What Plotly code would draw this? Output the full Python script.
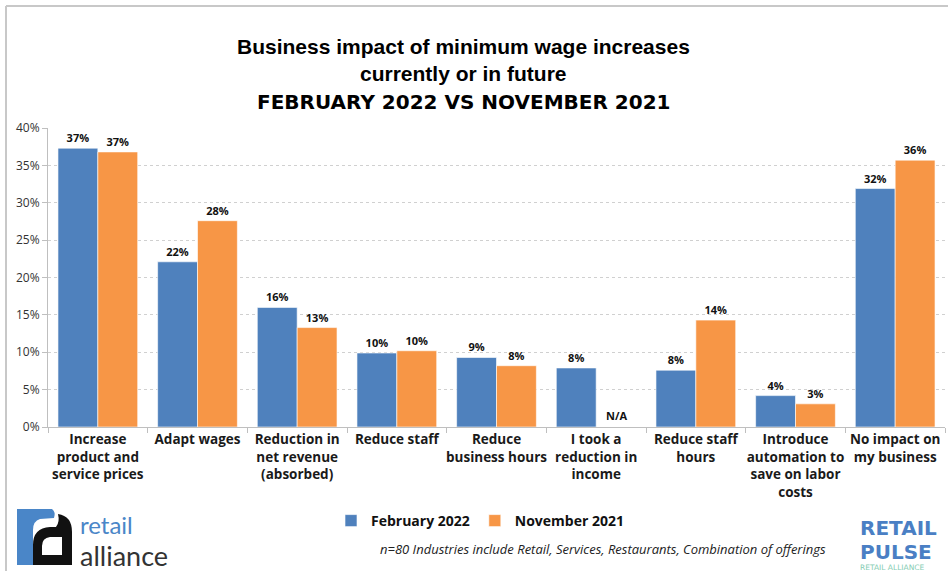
import plotly.graph_objects as go

# Survey categories and responses (percent of respondents)
categories = [
    "Increase product and service prices",
    "Adapt wages",
    "Reduction in net revenue (absorbed)",
    "Reduce staff",
    "Reduce business hours",
    "I took a reduction in income",
    "Reduce staff hours",
    "Introduce automation to save on labor costs",
    "No impact on my business",
]
tick_labels = [
    "Increase<br>product and<br>service prices",
    "Adapt wages",
    "Reduction in<br>net revenue<br>(absorbed)",
    "Reduce staff",
    "Reduce<br>business hours",
    "I took a<br>reduction in<br>income",
    "Reduce staff<br>hours",
    "Introduce<br>automation to<br>save on labor<br>costs",
    "No impact on<br>my business",
]
feb_2022 = [37.3, 22.1, 16.0, 9.9, 9.3, 7.9, 7.6, 4.2, 31.9]
nov_2021 = [36.8, 27.6, 13.3, 10.2, 8.2, None, 14.3, 3.1, 35.7]
y_ticks = [0, 5, 10, 15, 20, 25, 30, 35, 40]
y_tick_text = [f"{v}%" for v in y_ticks]

W, H = 948, 571
ML, MR, MT, MB = 48, 3, 128, 144
PW, PH = W - ML - MR, H - MT - MB


def px(x):
    return (x - ML) / PW


def py(y):
    return (H - MB - y) / PH


BLUE = "#4f81bd"
ORANGE = "#f79646"
LABEL_FONT = "Open Sans"

fig = go.Figure()
for name, vals, color in [("February 2022", feb_2022, BLUE),
                          ("November 2021", nov_2021, ORANGE)]:
    fig.add_trace(go.Bar(
        name=name, x=categories, y=vals,
        marker=dict(color=color, line=dict(color="rgba(255,255,255,0.6)", width=1)),
        text=[None if v is None else f"{v:.0f}%" for v in vals],
        textposition="outside",
        textfont=dict(family=LABEL_FONT, size=11, color="#111111", weight="bold"),
        cliponaxis=False,
    ))

# "N/A" marker for the missing November value
na_idx = nov_2021.index(None)
fig.add_annotation(x=categories[na_idx], y=0, xref="x", yref="y",
                   text="<b>N/A</b>", showarrow=False, xshift=20, yshift=12,
                   font=dict(family=LABEL_FONT, size=11, color="#111111"))

# Title lines
title_lines = [
    ("Business impact of minimum wage increases", 47, "Liberation Sans", 21),
    ("currently or in future", 74, "Liberation Sans", 21),
    ("FEBRUARY 2022 VS NOVEMBER 2021", 102, "DejaVu Sans", 20),
]
for txt, yy, fam, size in title_lines:
    fig.add_annotation(x=px(463), y=py(yy), xref="paper", yref="paper",
                       text=f"<b>{txt}</b>", showarrow=False,
                       xanchor="center", yanchor="middle",
                       font=dict(family=fam, size=size, color="#000000"))

# Footnote
fig.add_annotation(x=px(603), y=py(549), xref="paper", yref="paper",
                   text="<i>n=80 Industries include Retail, Services, Restaurants, Combination of offerings</i>",
                   showarrow=False, xanchor="center", yanchor="middle",
                   font=dict(family="Open Sans", size=13, color="#222222"))

# Outer frame (top and left edges)
fig.add_shape(type="line", xref="paper", yref="paper",
              x0=px(6), x1=px(960), y0=py(6), y1=py(6),
              line=dict(color="#c8c8c8", width=2))
fig.add_shape(type="line", xref="paper", yref="paper",
              x0=px(6), x1=px(6), y0=py(6), y1=py(580),
              line=dict(color="#c8c8c8", width=2))

# Retail Alliance logo mark
r_path = (f"M{px(17)},{py(565)} L{px(17)},{py(509)} L{px(52)},{py(509)} "
          f"Q{px(56)},{py(512)} {px(54)},{py(518)} L{px(40)},{py(519)} "
          f"Q{px(33)},{py(521)} {px(33)},{py(530)} L{px(33)},{py(565)} Z")
fig.add_shape(type="path", path=r_path, xref="paper", yref="paper",
              fillcolor="#4a86c8", line=dict(width=0))
a_path = (f"M{px(33)},{py(565)} L{px(33)},{py(545)} "
          f"Q{px(33)},{py(528)} {px(50)},{py(527)} L{px(56)},{py(527)} "
          f"Q{px(60)},{py(522)} {px(58)},{py(514)} "
          f"Q{px(72)},{py(516)} {px(72)},{py(532)} L{px(72)},{py(565)} Z "
          f"M{px(42)},{py(555)} L{px(62)},{py(555)} L{px(62)},{py(537)} "
          f"L{px(50)},{py(537)} Q{px(42)},{py(538)} {px(42)},{py(546)} Z")
fig.add_shape(type="path", path=a_path, xref="paper", yref="paper",
              fillcolor="#111111", line=dict(width=0))
fig.add_annotation(x=px(78), y=py(524), xref="paper", yref="paper",
                   text="retail", showarrow=False, xanchor="left", yanchor="middle",
                   font=dict(family="Lato", size=24, color="#4a86c8"))
fig.add_annotation(x=px(78), y=py(555), xref="paper", yref="paper",
                   text="alliance", showarrow=False, xanchor="left", yanchor="middle",
                   font=dict(family="Lato", size=27, color="#333333"))

# Retail Pulse logo
pulse_lines = [("<b>RETAIL</b>", 528, 20, "#4a7fc4"),
               ("<b>PULSE</b>", 551.5, 20, "#4a7fc4"),
               ("RETAIL ALLIANCE", 567, 7.5, "#86cdb4")]
for txt, yy, size, col in pulse_lines:
    fig.add_annotation(x=px(858), y=py(yy), xref="paper", yref="paper",
                       text=txt, showarrow=False, xanchor="left", yanchor="middle",
                       font=dict(family="DejaVu Sans", size=size, color=col))

fig.update_layout(
    width=W, height=H,
    margin=dict(l=ML, r=MR, t=MT, b=MB, pad=0),
    paper_bgcolor="white", plot_bgcolor="white",
    barmode="group", bargap=0.2, bargroupgap=0,
    showlegend=True,
    legend=dict(orientation="h", x=px(480), xanchor="center", y=py(505), yanchor="top",
                font=dict(family=LABEL_FONT, size=14, color="#111111", weight="bold"),
                itemwidth=30, tracegroupgap=0, bgcolor="rgba(0,0,0,0)"),
    xaxis=dict(tickmode="array", tickvals=categories, ticktext=tick_labels,
               tickson="boundaries", ticks="outside", ticklen=5, tickcolor="#bfbfbf",
               showline=True, linecolor="#bfbfbf", linewidth=1,
               tickfont=dict(family=LABEL_FONT, size=13.5, color="#1a1a1a", weight="bold"),
               tickangle=0, showgrid=False),
    yaxis=dict(range=[0, 40], tickmode="array", tickvals=y_ticks, ticktext=y_tick_text,
               ticks="outside", ticklen=5, tickcolor="#bfbfbf",
               showline=True, linecolor="#bfbfbf", linewidth=1,
               showgrid=True, gridcolor="#d0d0d0", griddash="dot", gridwidth=1,
               zeroline=False,
               tickfont=dict(family=LABEL_FONT, size=12, color="#333333")),
)

fig.write_html("out.html")
